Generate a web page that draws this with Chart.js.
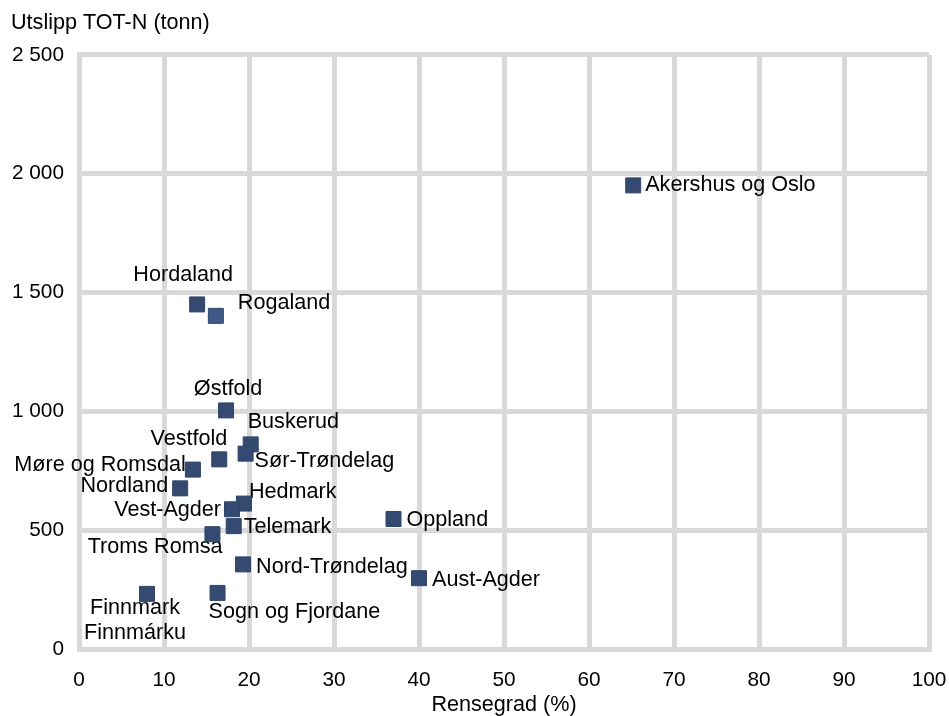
<!DOCTYPE html>
<html lang="no">
<head>
    <meta charset="UTF-8">
    <title>Utslipp TOT-N og rensegrad</title>
    <style>
        body { margin: 0; background: #fff; }
        canvas { display: block; }
    </style>
</head>
<body>
    <canvas id="chart" width="949" height="716"></canvas>

    <script src="https://cdn.jsdelivr.net/npm/chart.js"></script>
    <script>
        // Data
        const regions = [
            'Akershus og Oslo', 'Hordaland', 'Rogaland', 'Østfold', 'Buskerud',
            'Vestfold', 'Sør-Trøndelag', 'Møre og Romsdal', 'Nordland', 'Hedmark',
            'Vest-Agder', 'Telemark', 'Troms Romsa', 'Oppland', 'Nord-Trøndelag',
            'Aust-Agder', 'Sogn og Fjordane', 'Finnmark\nFinnmárku'
        ];
        const rensegrad = [65.2, 13.9, 16.1, 17.3, 20.2, 16.5, 19.6, 13.4, 11.9, 19.4, 18.0, 18.2, 15.7, 37.0, 19.3, 40.0, 16.3, 8.0];
        const utslipp = [1951, 1450, 1402, 1004, 861, 798, 822, 755, 676, 612, 588, 517, 483, 547, 356, 298, 236, 232];
        const xTicks = [0, 10, 20, 30, 40, 50, 60, 70, 80, 90, 100];
        const yTicks = [0, 500, 1000, 1500, 2000, 2500];

        // where each label sits relative to its marker: [dx, dy, align]
        const labelOffsets = [
            [12, 0, 'left'], [-14, -29, 'center'], [22, -13, 'left'], [2, -21, 'center'], [-3, -22, 'left'],
            [8, -20, 'right'], [9, 7, 'left'], [-7, -5, 'right'], [-12, -2, 'right'], [5, -12, 'left'],
            [-11, 1, 'right'], [10, 1, 'left'], [10, 13, 'right'], [13, 1, 'left'], [13, 3, 'left'],
            [13, 2, 'left'], [-9, 19, 'left'], [-12, 14.5, 'center']
        ];

        const FONT = "'Liberation Sans', Arial, sans-serif";
        const gridColor = '#d9d9d9';

        function spaced(v) {
            return String(v).replace(/\B(?=(\d{3})+(?!\d))/g, ' ');
        }

        // draws the region names next to the markers
        const pointLabels = {
            id: 'pointLabels',
            beforeDatasetsDraw(chart) {
                const ctx = chart.ctx;
                const meta = chart.getDatasetMeta(0);
                ctx.save();
                ctx.font = '21.6px ' + FONT;
                ctx.fillStyle = '#000';
                ctx.textBaseline = 'middle';
                meta.data.forEach((pt, i) => {
                    const [dx, dy, align] = labelOffsets[i];
                    ctx.textAlign = align;
                    regions[i].split('\n').forEach((line, j) => {
                        ctx.fillText(line, pt.x + dx, pt.y + dy + j * 25);
                    });
                });
                ctx.restore();
            }
        };

        const points = rensegrad.map((x, i) => ({ x: x, y: utslipp[i] }));

        new Chart(document.getElementById('chart'), {
            type: 'scatter',
            data: {
                datasets: [{
                    data: points,
                    pointStyle: 'rect',
                    pointRadius: 10.6,
                    pointHoverRadius: 10.6,
                    backgroundColor: ctx => ctx.dataIndex === 2 ? '#3e5887' : '#344a70',
                    borderColor: '#30456a',
                    borderWidth: 1
                }]
            },
            options: {
                responsive: false,
                animation: false,
                events: [],
                layout: { autoPadding: false, padding: { left: 11, right: 0, top: 0, bottom: 0 } },
                plugins: {
                    legend: { display: false },
                    tooltip: { enabled: false },
                    title: {
                        display: true,
                        text: 'Utslipp TOT-N (tonn)',
                        align: 'start',
                        color: '#000',
                        font: { family: FONT, size: 21.6, weight: 'normal', lineHeight: 1.2 },
                        padding: { top: 10, bottom: 19 }
                    }
                },
                scales: {
                    x: {
                        type: 'linear',
                        min: 0,
                        max: 100,
                        afterBuildTicks: axis => { axis.ticks = xTicks.map(v => ({ value: v })); },
                        afterFit: axis => { axis.height = 67; axis.paddingRight = 20; axis.paddingLeft = 0; },
                        ticks: { color: '#000', font: { family: FONT, size: 20.8 }, padding: 19, maxRotation: 0 },
                        grid: { color: gridColor, lineWidth: 5, drawTicks: false },
                        border: { color: gridColor, width: 5 },
                        title: {
                            display: true,
                            text: 'Rensegrad (%)',
                            color: '#000',
                            font: { family: FONT, size: 21.6, lineHeight: 1 },
                            padding: { top: 2, bottom: 0 }
                        }
                    },
                    y: {
                        type: 'linear',
                        min: 0,
                        max: 2500,
                        afterBuildTicks: axis => { axis.ticks = yTicks.map(v => ({ value: v })); },
                        afterFit: axis => { axis.width = 68; },
                        ticks: { color: '#000', font: { family: FONT, size: 20.8 }, padding: 15, callback: v => spaced(v) },
                        grid: { color: gridColor, lineWidth: 5, drawTicks: false },
                        border: { color: gridColor, width: 5 }
                    }
                }
            },
            plugins: [pointLabels]
        });
    </script>
</body>
</html>
